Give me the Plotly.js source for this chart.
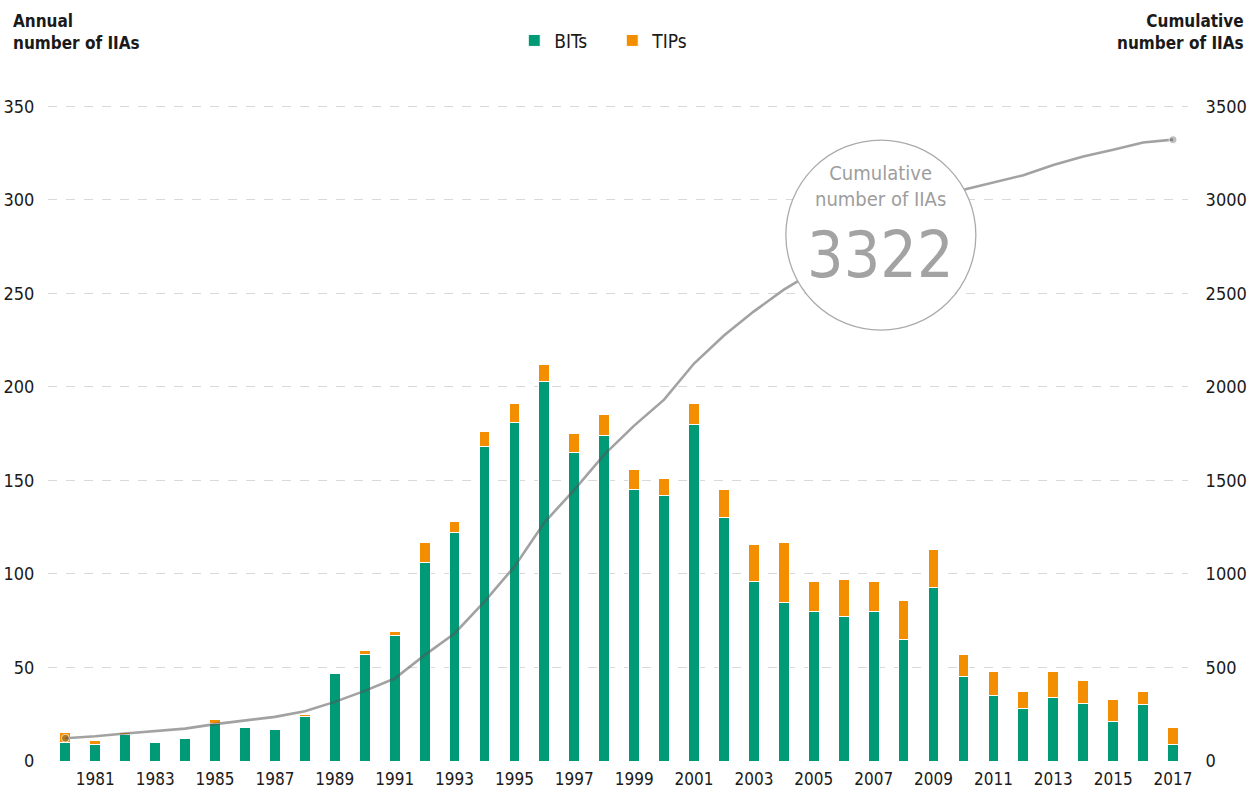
<!DOCTYPE html>
<html>
<head>
<meta charset="utf-8">
<script src="https://cdn.plot.ly/plotly-3.0.1.min.js"></script>
<style>html,body{margin:0;padding:0;background:#fff;}#chart{width:1257px;height:791px;}</style>
</head>
<body>
<div id="chart"></div>
<script>
// ---- data ----
const years = [1980,1981,1982,1983,1984,1985,1986,1987,1988,1989,1990,1991,1992,1993,1994,1995,1996,1997,1998,1999,2000,2001,2002,2003,2004,2005,2006,2007,2008,2009,2010,2011,2012,2013,2014,2015,2016,2017];
const bits  = [10,9,14,10,12,20,18,17,24,47,57,67,106,122,168,181,203,165,174,145,142,180,130,96,85,80,77,80,65,93,45,35,28,34,31,21,30,9];
const tips  = [5,2,1,0,0,2,0,0,1,0,2,2,11,6,8,10,9,10,11,11,9,11,15,20,32,16,20,16,21,20,12,13,9,14,12,12,7,9];
const cumulative = [122,132,147,161,173,197,218,236,266,316,375,441,566,682,852,1039,1275,1450,1638,1793,1932,2125,2275,2404,2520,2615,2712,2808,2895,3008,3054,3093,3132,3186,3232,3268,3307,3322];
const xTickYears = [1981,1983,1985,1987,1989,1991,1993,1995,1997,1999,2001,2003,2005,2007,2009,2011,2013,2015,2017];
const leftTicks = [0,50,100,150,200,250,300,350];
const rightTicks = [0,500,1000,1500,2000,2500,3000,3500];
const seriesNames = ["BITs","TIPs"];
const totalLabel = "3322";

const FONT = "'Liberation Sans Narrow', 'DejaVu Sans Condensed', 'Arial Narrow', sans-serif";
const GREEN = "#009a77";
const ORANGE = "#f28e00";

const markerSizes = cumulative.map((v,i) => (i === 0 || i === cumulative.length-1) ? 8 : 0);

const traces = [
  {type:'bar', name:seriesNames[0], x:years, y:bits, width:0.36,
   marker:{color:GREEN, line:{color:'#ffffff', width:1}}, hoverinfo:'skip'},
  {type:'bar', name:seriesNames[1], x:years, y:tips, width:0.36,
   marker:{color:ORANGE, line:{color:'#ffffff', width:1}}, hoverinfo:'skip'},
  {type:'scatter', mode:'lines+markers', x:years, y:cumulative, yaxis:'y2', showlegend:false,
   line:{color:'rgba(85,85,85,0.55)', width:2.6},
   marker:{color:'rgba(85,85,85,0.55)', size:markerSizes}, hoverinfo:'skip'}
];

const layout = {
  width:1257, height:791,
  margin:{l:48, r:69, t:97, b:30},
  paper_bgcolor:'#ffffff', plot_bgcolor:'#ffffff',
  barmode:'stack',
  font:{family:FONT, size:18, color:'#1a1a1a'},
  showlegend:true,
  legend:{orientation:'h', x:0.409, xanchor:'left', y:1.085, yanchor:'middle',
          entrywidth:53, entrywidthmode:'pixels',
          font:{family:FONT, size:19, color:'#1a1a1a'}, traceorder:'normal', itemclick:false},
  xaxis:{range:[1979.42, 2017.5], tickvals:xTickYears, ticktext:xTickYears.map(String),
         showgrid:false, zeroline:false, showline:false, ticks:'outside', ticklen:3,
         tickcolor:'rgba(0,0,0,0)', tickfont:{family:FONT, size:17, color:'#1a1a1a'}},
  yaxis:{range:[0,355], tickvals:leftTicks, showgrid:true, gridcolor:'#d9d9d9', griddash:'dash', gridwidth:1,
         zeroline:true, zerolinecolor:'rgba(0,0,0,0)', showline:false, ticks:'outside', ticklen:9,
         tickcolor:'rgba(0,0,0,0)', tickfont:{family:FONT, size:18, color:'#1a1a1a'}},
  yaxis2:{range:[0,3550], tickvals:rightTicks, overlaying:'y', side:'right', showgrid:false,
          zeroline:false, showline:false, ticks:'outside', ticklen:13, tickcolor:'rgba(0,0,0,0)',
          tickfont:{family:FONT, size:18, color:'#1a1a1a'}},
  shapes:[
    {type:'circle', layer:'above', xref:'x', yref:'y', xsizemode:'pixel', ysizemode:'pixel',
     xanchor:2007.24, yanchor:281.2, x0:-95, x1:95, y0:-95, y1:95,
     fillcolor:'#ffffff', line:{color:'#ababab', width:1.3}}
  ],
  annotations:[
    {xref:'paper', yref:'paper', x:0, y:1, xanchor:'left', yanchor:'top', xshift:-37, yshift:88,
     align:'left', showarrow:false, text:'Annual<br>number of IIAs',
     font:{family:FONT, size:17, color:'#1a1a1a', weight:'bold'}},
    {xref:'paper', yref:'paper', x:1, y:1, xanchor:'right', yanchor:'top', xshift:58, yshift:88,
     align:'right', showarrow:false, text:'Cumulative<br>number of IIAs',
     font:{family:FONT, size:17, color:'#1a1a1a', weight:'bold'}},
    {xref:'x', yref:'y', x:2007.24, y:307.2, xanchor:'center', yanchor:'middle', showarrow:false,
     align:'center', text:'Cumulative<br>number of IIAs', font:{family:FONT, size:20, color:'#9d9d9d'}},
    {xref:'x', yref:'y', x:2007.24, y:270.5, xanchor:'center', yanchor:'middle', showarrow:false,
     text:totalLabel, font:{family:FONT, size:64, color:'#a3a3a3'}}
  ]
};

Plotly.newPlot('chart', traces, layout, {displayModeBar:false, staticPlot:true});
</script>
</body>
</html>
